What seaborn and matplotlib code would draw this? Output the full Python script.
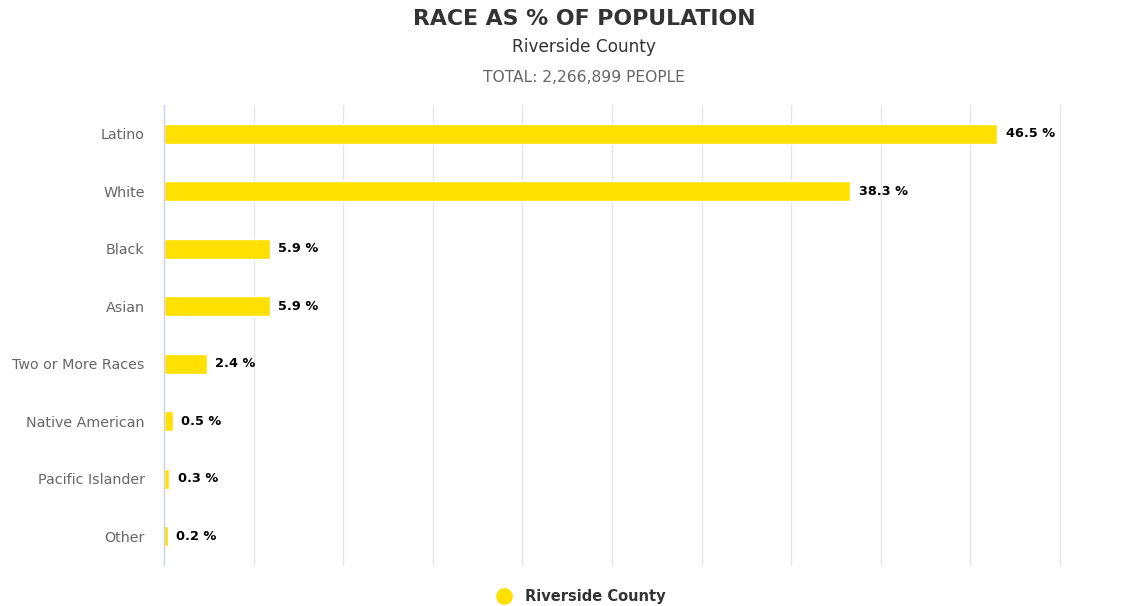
import matplotlib
matplotlib.use("Agg")
import matplotlib.pyplot as plt
from matplotlib.lines import Line2D
import seaborn as sns
import pandas as pd

categories = ["Latino", "White", "Black", "Asian", "Two or More Races",
              "Native American", "Pacific Islander", "Other"]
values = [46.5, 38.3, 5.9, 5.9, 2.4, 0.5, 0.3, 0.2]
series_name = "Riverside County"
title = "RACE AS % OF POPULATION"
subtitle = "Riverside County"
total_text = "TOTAL: 2,266,899 PEOPLE"

df = pd.DataFrame({"category": categories, "value": values})

sns.set_theme(style="white")
plt.rcParams["font.family"] = ["DejaVu Sans"]

bar_color = "#FFE000"

fig = plt.figure(figsize=(11.39, 6.06), dpi=100)
ax = fig.add_axes([0.144, 0.0677, 0.9306 - 0.144, 0.8267 - 0.0677])

sns.barplot(data=df, x="value", y="category", orient="h", color=bar_color,
            width=0.35, saturation=1, ax=ax, zorder=3)

ax.set_xlim(0, 50)
ax.set_ylim(len(categories) - 0.5, -0.5)
ax.set_xticks(range(0, 51, 5))
ax.set_xticklabels([])
ax.tick_params(axis="x", length=0)
ax.tick_params(axis="y", length=0, pad=14, labelsize=10.3, labelcolor="#666666")
ax.grid(axis="x", color="#e6e6e6", linewidth=1, zorder=0)
for gl in ax.get_xgridlines():
    gl.set_clip_on(False)
ax.grid(axis="y", visible=False)
ax.set_xlabel("")
ax.set_ylabel("")
for side in ["top", "right", "bottom"]:
    ax.spines[side].set_visible(False)
ax.spines["left"].set_color("#ccd6eb")
ax.spines["left"].set_linewidth(1)
ax.spines["left"].set_zorder(4)

for i, v in enumerate(values):
    ax.annotate(f"{v} %", xy=(v, i), xytext=(6, 0), textcoords="offset points",
                ha="left", va="center", fontsize=9.3, fontweight="bold",
                color="#000000")

fig.text(0.513, 0.968, title, ha="center", va="center", fontsize=15.8,
         fontweight="bold", color="#333333")
fig.text(0.513, 0.922, subtitle, ha="center", va="center", fontsize=12.2,
         color="#333333")
fig.text(0.513, 0.872, total_text, ha="center", va="center", fontsize=11.2,
         color="#666666")

handle = Line2D([], [], marker="o", linestyle="none", markersize=11,
                markerfacecolor=bar_color, markeredgecolor=bar_color)
fig.legend([handle], [series_name], loc="center", bbox_to_anchor=(0.507, 0.015),
           frameon=False, prop={"weight": "bold", "size": 10.5},
           labelcolor="#333333", handletextpad=0.4)

fig.savefig("out.png", dpi=100, facecolor="white")
